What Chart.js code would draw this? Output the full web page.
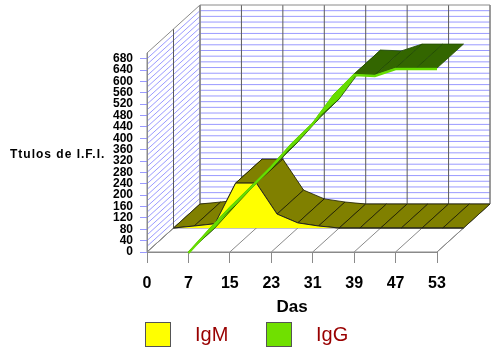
<!DOCTYPE html>
<html>
<head>
<meta charset="utf-8">
<script src="https://cdn.jsdelivr.net/npm/chart.js@4.4.0/dist/chart.umd.min.js"></script>
<style>
  html, body { margin: 0; padding: 0; background: #fff; }
  #wrap { position: relative; width: 500px; height: 350px; }
  .lg-box { position: absolute; width: 24px; height: 23px; border: 1px solid #555; }
  .lg-text { position: absolute; font: 20px "Liberation Sans", Arial, sans-serif; color: #990000; line-height: 24px; }
</style>
</head>
<body>
<div id="wrap">
  <canvas id="chart" width="500" height="350"></canvas>
  <div id="legend"></div>
</div>
<script>
/* ============================================================
   Títulos de I.F.I. - ribbon chart (IgM / IgG)
   ============================================================ */

// Data
const days = ['0', '', '7', '', '15', '', '23', '', '31', '', '39', '', '47', '', '53'];
const igm = [0, 7, 15, 158, 158, 49, 18, 7, 0, 0, 0, 0, 0, 0, 0];
const igg = [null, null, 0, 80, 158, 229, 302, 383, 454, 552, 626, 623, 647, 647, 647];
const seriesNames = ['IgM', 'IgG'];
const yMax = 700;
const yStep = 40;

// Look
const FONT = '"Liberation Sans", Arial, sans-serif';
const DX = 53, DY = -48;          // depth offset of the back wall
const GRID = 'rgba(120,120,255,0.75)';
const EDGE = '#8a8a8a';

function pt(x, y, d) { return [x + DX * d, y + DY * d]; }

function poly(ctx, pts, fill, stroke) {
  ctx.beginPath();
  ctx.moveTo(pts[0][0], pts[0][1]);
  for (let i = 1; i < pts.length; i++) ctx.lineTo(pts[i][0], pts[i][1]);
  ctx.closePath();
  if (fill) { ctx.fillStyle = fill; ctx.fill(); }
  if (stroke) { ctx.strokeStyle = stroke; ctx.stroke(); }
}

function seg(ctx, a, b) {
  ctx.beginPath();
  ctx.moveTo(a[0], a[1]);
  ctx.lineTo(b[0], b[1]);
  ctx.stroke();
}

// walls, floor and grid of the 3D box
const walls = {
  id: 'walls',
  beforeDraw(chart) {
    const { ctx } = chart;
    const xs = chart.scales.x, ys = chart.scales.y;
    const L = xs.left, R = xs.right;
    const B = ys.getPixelForValue(0), T = ys.getPixelForValue(yMax);
    ctx.save();
    ctx.lineWidth = 1;
    poly(ctx, [pt(L, T, 1), pt(R, T, 1), pt(R, B, 1), pt(L, B, 1)], '#fff', null);
    poly(ctx, [pt(L, B, 0), pt(L, T, 0), pt(L, T, 1), pt(L, B, 1)], '#fff', null);
    poly(ctx, [pt(L, B, 0), pt(R, B, 0), pt(R, B, 1), pt(L, B, 1)], '#fff', null);

    ctx.strokeStyle = GRID;
    for (let v = yStep / 2; v < yMax; v += yStep / 2) {
      const y = ys.getPixelForValue(v);
      seg(ctx, pt(L, y, 0), pt(L, y, 1));
      seg(ctx, pt(L, y, 1), pt(R, y, 1));
    }

    ctx.strokeStyle = EDGE;
    days.forEach((d, i) => {
      if (!d) return;
      const x = xs.getPixelForValue(i);
      seg(ctx, pt(x, B, 0), pt(x, B, 1));
    });
    seg(ctx, pt(L, B, 0.5), pt(R, B, 0.5));

    ctx.strokeStyle = '#5a5a5a';
    days.forEach((d, i) => {
      if (!d) return;
      const x = xs.getPixelForValue(i);
      seg(ctx, pt(x, B, 1), pt(x, T, 1));
    });
    seg(ctx, pt(L, B, 0.5), pt(L, T, 0.5));

    poly(ctx, [pt(L, T, 1), pt(R, T, 1), pt(R, B, 1), pt(L, B, 1)], null, EDGE);
    poly(ctx, [pt(L, B, 0), pt(L, T, 0), pt(L, T, 1), pt(L, B, 1)], null, EDGE);
    poly(ctx, [pt(L, B, 0), pt(R, B, 0), pt(R, B, 1), pt(L, B, 1)], null, EDGE);
    ctx.restore();
  },
  afterDraw(chart) {
    const { ctx } = chart;
    ctx.save();
    ctx.font = 'bold 12px ' + FONT;
    ctx.letterSpacing = '1px';
    ctx.fillStyle = '#000';
    ctx.textBaseline = 'middle';
    ctx.fillText('Ttulos de I.F.I.', 10, 155);
    ctx.restore();
  }
};

// top surface of each ribbon, then shift the series to its depth row
const ribbons = {
  id: 'ribbons',
  beforeDatasetDraw(chart, args) {
    const ds = chart.data.datasets[args.index];
    const pts = args.meta.data;
    const [d0, d1] = ds.depth;
    const { ctx } = chart;
    const quads = [];
    for (let i = 0; i < pts.length - 1; i++) {
      const a = pts[i], b = pts[i + 1];
      if (a.skip || b.skip) continue;
      const cross = (b.x - a.x) * DY - (b.y - a.y) * DX;
      quads.push({
        under: cross > 0,
        p: [pt(a.x, a.y, d0), pt(b.x, b.y, d0), pt(b.x, b.y, d1), pt(a.x, a.y, d1)]
      });
    }
    quads.sort((q, r) => r.under - q.under);
    ctx.save();
    ctx.lineWidth = 0.8;
    ctx.lineJoin = 'round';
    quads.forEach(q => poly(ctx, q.p, q.under ? ds.underColor : ds.topColor, ds.edgeColor));
    ctx.restore();

    ctx.save();
    ctx.translate(DX * d0, DY * d0 + (ds.lift || 0));
  },
  afterDatasetDraw(chart) {
    chart.ctx.restore();
  }
};

// our hook has to run before the filler paints the IgM face
const filler = Chart.registry.getPlugin('filler');
Chart.unregister(filler);
Chart.register(ribbons, filler);

Chart.defaults.font.family = FONT;
Chart.defaults.color = '#000';

new Chart(document.getElementById('chart'), {
  type: 'line',
  data: {
    labels: days,
    datasets: [
      {
        label: seriesNames[0],
        data: igm,
        depth: [0.5, 1],
        backgroundColor: '#ffff00',
        borderColor: '#222',
        borderWidth: 1,
        topColor: '#808000',
        underColor: '#808000',
        edgeColor: '#1a1a00',
        fill: 'origin',
        pointRadius: 0,
        tension: 0,
        clip: false,
        order: 1
      },
      {
        label: seriesNames[1],
        data: igg,
        depth: [0, 0.5],
        lift: 1,
        borderColor: '#66dd00',
        borderWidth: 2.5,
        topColor: '#336600',
        underColor: '#66dd00',
        edgeColor: '#1f4a00',
        fill: false,
        pointRadius: 0,
        tension: 0,
        clip: false,
        order: 0
      }
    ]
  },
  options: {
    responsive: false,
    animation: false,
    devicePixelRatio: 1,
    events: [],
    layout: { padding: { left: 0, right: 63, top: 53, bottom: 0 } },
    plugins: {
      legend: { display: false },
      tooltip: { enabled: false },
      filler: { drawTime: 'beforeDatasetDraw' }
    },
    scales: {
      x: {
        type: 'category',
        offset: false,
        afterFit: s => { s.height = 98; },
        grid: {
          drawOnChartArea: false,
          tickLength: 11,
          color: c => (days[c.index] ? EDGE : 'rgba(0,0,0,0)')
        },
        border: { display: true, color: EDGE },
        ticks: {
          autoSkip: false,
          maxRotation: 0,
          padding: 11,
          font: { size: 16, weight: 'bold' },
          callback: (v, i) => days[i]
        },
        title: {
          display: true,
          text: 'Das',
          font: { size: 17, weight: 'bold' },
          padding: { top: 0, bottom: 32 }
        }
      },
      y: {
        min: 0,
        max: yMax,
        afterFit: s => { s.width = 147; },
        grid: {
          drawOnChartArea: false,
          tickLength: 7,
          color: GRID
        },
        border: { display: true, color: EDGE },
        ticks: {
          stepSize: yStep,
          includeBounds: false,
          autoSkip: false,
          padding: 7,
          font: { size: 12, weight: 'bold' }
        }
      }
    }
  },
  plugins: [walls]
});

// Legend
const legendColors = ['#ffff00', '#70e000'];
const legend = document.getElementById('legend');
seriesNames.forEach((name, i) => {
  const left = 145 + i * 121;
  const box = document.createElement('div');
  box.className = 'lg-box';
  box.style.left = left + 'px';
  box.style.top = '322px';
  box.style.background = legendColors[i];
  const txt = document.createElement('div');
  txt.className = 'lg-text';
  txt.style.left = (left + 50) + 'px';
  txt.style.top = '322px';
  txt.textContent = name;
  legend.appendChild(box);
  legend.appendChild(txt);
});
</script>
</body>
</html>
